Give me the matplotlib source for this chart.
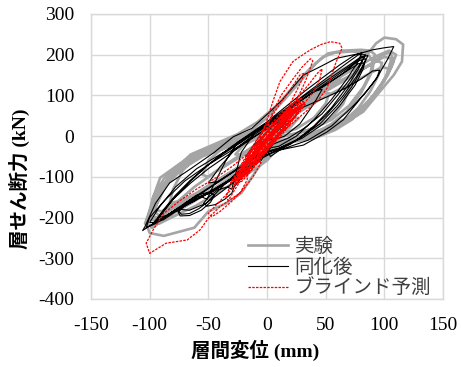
"""
Hysteresis comparison: story shear vs. story drift for test, updated model and blind prediction.
"""

import matplotlib
matplotlib.use("Agg")
import matplotlib.pyplot as plt

plt.rcParams["axes.unicode_minus"] = False

# 実験 (test) path, mm / kN -- one line per cycle
exp_disp = [
    0, 10, 20, 27, 22, 10, 0, -10, -20, -27, -22, -10, 0,
    10, 25, 40, 50, 53, 48, 35, 20, 5, -10, -25, -40, -50, -55, -50, -38, -22, -5,
    10, 25, 40, 55, 65, 72, 75, 68, 55, 40, 20, 0, -20, -40, -58, -72, -80, -83, -76, -62, -45, -25, -5,
    15, 35, 55, 70, 82, 90, 92, 88, 80, 65, 52, 42, 30, 15, 0, -15, -30, -50, -68, -85, -95, -100, -93, -82, -65, -45, -25, -8,
    10, 30, 50, 65, 78, 88, 95, 98, 93, 82, 68, 50, 30, 10, -10, -30, -50, -68, -82, -92, -98, -94, -85, -70, -52, -32, -12, 0,
    0, 20, 40, 55, 68, 80, 88, 90, 85, 72, 58, 48, 38, 25, 10, -8, -25, -45, -65, -80, -90, -96, -92, -80, -62, -40, -18,
    20, 40, 58, 72, 85, 95, 102, 106, 100, 88, 72, 55, 35, 15, -5, -25, -45, -62, -78, -90, -99, -104, -98, -88, -72, -55, -35, -15,
    5, 20, 35, 50, 68, 82, 96, 108, 115, 116, 110, 100, 93, 85, 76, 62, 45, 28, 10, -5, -17, -37, -58, -74, -91, -97, -103, -100, -88, -75,
    -62, -50, -35, -22, -15, -8, 0, 10,
    25, 45, 62, 78, 92, 103, 108, 105, 98, 90, 78, 60, 40, 20, 0, -20, -45, -65, -82, -95, -102, -98, -90, -80, -65, -45, -25, -10, 0,
    5, 25, 45, 60, 75, 88, 98, 106, 110, 104, 92, 80, 65, 45, 25, 5, -15, -35, -55, -75, -88, -97, -100, -92, -78, -60, -40, -20, 0,
    15, 35, 55, 75, 90, 100, 104, 98, 85, 65, 45, 25, 5, -15, -35, -55, -72, -86, -96, -90, -78, -60, -40, -20, 0,
]
exp_force = [
    0, 8, 22, 45, 45, 22, 5, -8, -22, -45, -45, -22, -5,
    5, 18, 45, 80, 105, 105, 75, 45, 15, -2, -15, -35, -60, -95, -100, -75, -45, -15,
    0, 5, 20, 45, 80, 130, 165, 160, 125, 90, 50, 20, 0, -20, -45, -85, -130, -165, -160, -125, -90, -55, -20,
    0, 15, 40, 75, 120, 165, 200, 210, 212, 210, 203, 180, 140, 90, 45, 10, -10, -35, -65, -110, -160, -205, -205, -180, -150, -115, -80, -45,
    -20, -8, 8, 35, 70, 110, 150, 180, 185, 165, 140, 110, 75, 35, 0, -20, -40, -65, -100, -145, -195, -200, -185, -160, -125, -90, -55, -30,
    -30, -15, 5, 30, 60, 105, 150, 185, 205, 208, 205, 195, 170, 130, 80, 35, 5, -20, -45, -85, -130, -185, -195, -175, -145, -105, -65,
    -15, -5, 15, 40, 75, 115, 150, 190, 195, 175, 150, 125, 90, 50, 15, -10, -28, -50, -80, -125, -175, -215, -220, -200, -175, -145, -110, -70,
    -15, -5, 2, 10, 35, 60, 109, 150, 183, 225, 238, 242, 228, 199, 183, 160, 125, 85, 45, 20, 7, -15, -38, -67, -102, -150, -215, -238, -245, -235,
    -225, -185, -165, -140, -110, -80, -50, -25,
    -10, 0, 25, 60, 105, 150, 185, 205, 200, 180, 160, 130, 95, 55, 20, -5, -30, -55, -95, -150, -215, -225, -210, -190, -165, -130, -95, -60, -35,
    -20, -10, 5, 25, 55, 90, 130, 170, 200, 210, 195, 175, 150, 115, 80, 40, 5, -20, -45, -70, -105, -150, -200, -215, -195, -170, -135, -100, -60,
    -10, 5, 25, 55, 95, 135, 165, 170, 150, 120, 90, 55, 20, -8, -28, -50, -80, -120, -180, -185, -165, -140, -110, -75, -40,
]

# 同化後 (updated model) path
sim_disp = [
    0, 8, 15, 20, 15, 5, -5, -12, -18, -13, -5, 0,
    5, 15, 28, 40, 47, 40, 28, 15, 0, -15, -28, -40, -50, -42, -30, -15, 0,
    10, 25, 40, 55, 68, 77, 81, 74, 62, 48, 32, 15, 0, -15, -30, -48, -65, -80, -92, -97, -88, -75, -60, -42, -25, -8,
    5, 20, 35, 50, 65, 77, 84, 86, 80, 68, 55, 40, 25, 8, -8, -25, -35, -42, -48, -51, -55, -62, -70, -75, -73, -66, -58, -52,
    -45, -35, -20, -5,
    10, 28, 45, 60, 72, 80, 83, 78, 68, 52, 38, 22, 5, -10, -22, -26, -30, -34, -42, -50, -54, -51, -44, -36, -30, -28, -20, -10, 0,
    -20, -35, -48, -60, -70, -76, -74, -66, -56, -48, -45, -50, -60, -70, -74, -66, -52, -38, -25, -12,
    0, 12, 25, 40, 55, 68, 78, 83, 80, 70, 55, 40, 25, 10, -5, -20, -35, -50, -65, -80, -90, -96, -90, -78, -62, -45, -28, -12, 0,
    3, 11, 31, 51, 65, 79, 93, 103, 108, 100, 90, 79, 59, 45, 31, 13, 4, -13, -29, -45, -65, -83, -95, -104, -106, -100, -92, -85,
    -75, -60, -40, -20, -5,
    5, 18, 32, 47, 60, 72, 80, 84, 78, 66, 52, 38, 22, 8, -8, -22, -38, -52, -66, -78, -88, -93, -86, -72, -58, -40, -22, -6,
    0, 15, 35, 55, 72, 85, 94, 96, 90, 80, 65, 50, 30, 10, -10, -30, -50, -70, -88, -100, -103, -95, -80, -62, -45, -28, -12, 0,
    10, 30, 48, 62, 75, 82, 84, 78, 65, 50, 35, 18, 0, -20, -40, -60, -78, -92, -100, -95, -85, -70, -55, -38, -20, 0,
]
sim_force = [
    0, 10, 30, 55, 50, 25, -5, -25, -50, -48, -25, -5,
    -10, 0, 30, 80, 115, 110, 85, 55, 25, -5, -35, -75, -115, -112, -90, -60, -30,
    -25, 0, 40, 90, 140, 180, 205, 198, 175, 145, 110, 70, 35, 5, -25, -65, -110, -155, -200, -215, -205, -180, -155, -125, -95, -60,
    -40, -20, 10, 50, 100, 150, 185, 198, 195, 170, 145, 115, 85, 45, 15, -15, -60, -100, -135, -155, -150, -155, -170, -185, -192, -190, -178, -165,
    -145, -115, -75, -40,
    -30, -5, 30, 75, 120, 160, 180, 178, 160, 130, 105, 75, 40, 10, -40, -85, -130, -125, -132, -150, -165, -172, -168, -155, -140, -125, -95, -65, -40,
    -80, -115, -140, -150, -165, -185, -196, -195, -182, -162, -145, -138, -145, -165, -180, -182, -165, -135, -105, -70,
    -40, -30, -10, 25, 70, 120, 165, 195, 192, 170, 140, 110, 80, 45, 10, -20, -50, -80, -115, -155, -190, -210, -205, -180, -150, -118, -85, -55, -35,
    -50, -34, -22, 10, 40, 90, 140, 190, 220, 217, 212, 203, 191, 170, 150, 89, 64, 19, -2, -40, -80, -115, -165, -222, -232, -220, -205, -195,
    -180, -155, -125, -90, -60,
    -20, -5, 20, 55, 100, 145, 180, 200, 200, 175, 145, 115, 80, 50, 15, -15, -45, -75, -110, -145, -180, -200, -195, -170, -145, -110, -75, -45,
    -45, -30, -10, 25, 70, 110, 145, 162, 160, 140, 115, 95, 70, 35, 0, -35, -70, -110, -160, -200, -225, -215, -185, -160, -130, -100, -70, -40,
    -30, -5, 30, 75, 125, 165, 190, 185, 155, 125, 100, 65, 28, -10, -45, -80, -125, -175, -212, -212, -195, -170, -148, -120, -85, -45,
]

# ブラインド予測 (blind prediction) path
blind_disp = [
    0, 8, 15, 20, 15, 5, -5, -12, -18, -22, -16, -8, 2, 10, 18, 25, 28, 22, 12, 2, -8, -15, -22, -26, -20,
    -12, -3, 5, 12, 20, 26, 30, 24, 14, 4, -6, -14, -20, -24, -18, -10, -2, 6, 14, 22, 18, 8, -2, -10, -17,
    -13, -4, 4, 12, 17, 10, 0, -8,
    3, 12, 22, 27, 20, 9, -2, -13, -21, -25, -18, -7, 4, 14, 23, 29, 24, 13, 1, -10,
    -19, -27, -22, -11, 0, 11, 19, 24, 17, 6, -5, -15, -23, -28, -21, -9, 2, 13, 21, 28,
    31, 25, 15, 4, -7, -17, -24, -19, -8, 3, 15, 24, 27, 20, 10, -1, -12, -20, -26, -16,
    -5, 7, 17, 26, 22, 12, 2, -9, -18, -23, -14, -3, 8, 16, 10, 0, -10,
    5, 14, 24, 30, 22, 10, -3, -15, -24, -29, -20, -6, 8, 20, 28, 33, 25, 11, -4, -18, -27, -31, -22, -8, 6,
    0, 5, 12, 22, 30, 37, 39, 36, 32, 27, 20, 10, 0, -8,
    5, 15, 25, 35, 44, 47, 45, 40, 33, 22, 12, 0, -10,
    0, 5, 11, 22, 28, 37, 46, 54, 62, 64, 59, 55, 51, 44, 35, 25, 15, 5, -5,
    -12, -20, -30, -42, -50, -47, -40, -30, -20, -12, -5,
    -12, -16, -17, -23, -40, -49, -57, -68, -86, -100, -103, -97, -88, -75, -60, -45, -30, -15, 0, 10,
    18, 25, 30, 32, 28, 20, 10, 0, -10, -20, -30, -35, -33, -25, -15,
]
blind_force = [
    0, 25, 50, 70, 65, 35, 5, -25, -55, -75, -70, -40, -5, 25, 55, 80, 90, 82, 50, 20, -15, -45, -80, -100, -95,
    -65, -30, 0, 25, 55, 75, 95, 85, 55, 25, -10, -40, -70, -90, -80, -50, -20, 10, 40, 65, 60, 30, 0, -30, -60,
    -55, -25, 5, 35, 50, 25, -5, -30,
    -5, 25, 55, 70, 60, 25, -10, -45, -75, -100, -90, -50, -10, 25, 55, 80, 75, 40, 0, -35,
    -70, -110, -105, -65, -30, 10, 40, 60, 50, 15, -25, -60, -90, -120, -110, -70, -30, 5, 35, 65,
    85, 80, 45, 10, -30, -65, -100, -95, -60, -20, 20, 50, 70, 60, 30, -5, -45, -75, -110, -90,
    -50, -10, 25, 55, 65, 35, 0, -40, -75, -105, -85, -45, -5, 30, 25, -10, -45,
    -10, 20, 50, 72, 60, 20, -25, -60, -90, -110, -95, -50, -5, 35, 60, 80, 70, 25, -25, -70, -100, -115, -100, -55, -15,
    20, 60, 100, 140, 170, 190, 185, 160, 130, 100, 70, 40, 10, -20,
    10, 50, 90, 125, 158, 165, 140, 110, 85, 55, 25, -5, -35,
    40, 85, 134, 183, 195, 212, 225, 232, 228, 216, 183, 150, 117, 90, 65, 40, 15, -10, -40,
    -60, -90, -130, -165, -190, -198, -185, -160, -130, -100, -65,
    -65, -83, -108, -140, -173, -198, -230, -255, -263, -288, -263, -230, -190, -160, -130, -105, -75, -40, -5, 30,
    70, 110, 140, 155, 150, 115, 75, 30, -15, -60, -110, -150, -158, -120, -80,
]

x_ticks = [-150, -100, -50, 0, 50, 100, 150]
y_ticks = [-400, -300, -200, -100, 0, 100, 200, 300]

serif = "Liberation Serif"
label_font = [serif, "Noto Sans CJK JP"]

fig = plt.figure(figsize=(4.61, 3.67), dpi=100)
ax = fig.add_axes([0.1974, 0.1853, 0.7636, 0.7766])

ax.plot(exp_disp, exp_force, color="#a5a5a5", lw=1.9, label="実験", zorder=2)
ax.plot(sim_disp, sim_force, color="black", lw=0.8, label="同化後", zorder=3)
ax.plot(blind_disp, blind_force, color="#ff0000", lw=0.9, ls=(0, (2, 1)),
        label="ブラインド予測", zorder=4)

ax.set_xlim(-150, 150)
ax.set_ylim(-400, 300)
ax.set_xticks(x_ticks)
ax.set_yticks(y_ticks)
ax.grid(True, color="#d9d9d9", lw=1.0, zorder=0)
ax.set_axisbelow(True)
for s in ax.spines.values():
    s.set_color("#d9d9d9")
    s.set_linewidth(1.0)

ax.tick_params(length=0, labelsize=14, colors="black")
ax.tick_params(axis="x", pad=13)
ax.tick_params(axis="y", pad=12)
for lab in ax.get_xticklabels() + ax.get_yticklabels():
    lab.set_fontfamily(serif)

ax.set_xlabel("層間変位 (mm)", family=label_font, weight="bold", fontsize=14,
              va="center")
ax.set_ylabel("層せん断力 (kN)", family=label_font, weight="bold", fontsize=14,
              va="center")
ax.xaxis.set_label_coords(0.466, -0.179)
ax.yaxis.set_label_coords(-0.202, 0.421)

leg = ax.legend(loc="lower left", bbox_to_anchor=(0.402, -0.053), frameon=False,
                prop={"family": "Noto Sans CJK JP", "size": 14},
                handlelength=2.05, handletextpad=0.35, labelspacing=0.0,
                borderpad=0.3)
for t in leg.get_texts():
    t.set_color("#404040")

fig.savefig("out.png", dpi=100)
